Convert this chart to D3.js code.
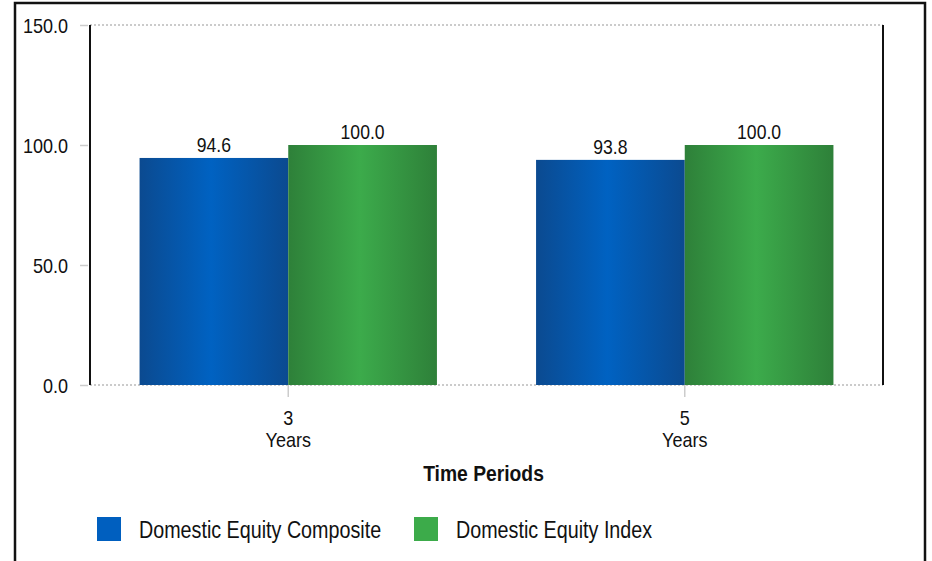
<!DOCTYPE html>
<html>
<head>
<meta charset="utf-8">
<title>Time Periods</title>
<script src="https://d3js.org/d3.v7.min.js"></script>
<style>
  body { margin: 0; background: #fff; }
  text { font-family: "Liberation Sans", Arial, sans-serif; fill: #111; }
</style>
</head>
<body>
<div id="chart"></div>
<script>
// data
var periods = ["3", "5"];
var periodUnits = ["Years", "Years"];
var seriesNames = ["Domestic Equity Composite", "Domestic Equity Index"];
var composite = [94.6, 93.8];
var index = [100.0, 100.0];
var yTicks = [0, 50, 100, 150];

var W = 932, H = 561;
var margin = {top: 25, left: 90, right: 49, bottom: 176};
var width = W - margin.left - margin.right;
var height = H - margin.top - margin.bottom;

var svg = d3.select("#chart").append("svg")
  .attr("width", W).attr("height", H);

// frame round the whole chart
svg.append("rect")
  .attr("x", 15).attr("y", 3).attr("width", 910).attr("height", 620)
  .attr("fill", "none").attr("stroke", "#111").attr("stroke-width", 2.5);

var defs = svg.append("defs");
function shade(id, edge, mid) {
  var g = defs.append("linearGradient").attr("id", id)
    .attr("x1", "0%").attr("x2", "100%").attr("y1", "0%").attr("y2", "0%");
  g.append("stop").attr("offset", "0%").attr("stop-color", edge);
  g.append("stop").attr("offset", "48%").attr("stop-color", mid);
  g.append("stop").attr("offset", "100%").attr("stop-color", edge);
}
shade("gBlue", "#0b4a90", "#0062c2");
shade("gGreen", "#2e8039", "#3cab4b");
var fills = ["url(#gBlue)", "url(#gGreen)"];
var legendColors = ["#005fbf", "#3cab4a"];

var g = svg.append("g").attr("transform", "translate(" + margin.left + "," + margin.top + ")");

var x0 = d3.scaleBand().domain(periods).range([0, width]).paddingInner(0.25).paddingOuter(0.125);
var x1 = d3.scaleBand().domain([0, 1]).range([0, x0.bandwidth()]);
var y = d3.scaleLinear().domain([0, 150]).range([height, 0]);

// dotted lines at top and bottom
[150, 0].forEach(function(v) {
  g.append("line")
    .attr("x1", 0).attr("x2", width)
    .attr("y1", y(v)).attr("y2", y(v))
    .attr("stroke", "#bbb").attr("stroke-width", 1.5)
    .attr("stroke-dasharray", "2,2");
});

var rows = periods.map(function(p, i) { return {period: p, unit: periodUnits[i], vals: [composite[i], index[i]]}; });

var grp = g.selectAll(".grp").data(rows).enter().append("g")
  .attr("transform", function(d) { return "translate(" + x0(d.period) + ",0)"; });

grp.selectAll("rect").data(function(d) { return d.vals; }).enter().append("rect")
  .attr("x", function(d, i) { return x1(i); })
  .attr("y", function(d) { return y(d); })
  .attr("width", x1.bandwidth())
  .attr("height", function(d) { return height - y(d); })
  .attr("fill", function(d, i) { return fills[i]; });

grp.selectAll(".val").data(function(d) { return d.vals; }).enter().append("text")
  .attr("class", "narrow")
  .attr("x", function(d, i) { return x1(i) + x1.bandwidth() / 2; })
  .attr("y", function(d) { return y(d) - 6; })
  .attr("text-anchor", "middle")
  .style("font-size", "20.5px")
  .text(function(d) { return d.toFixed(1); });

// y axis
var yAxis = d3.axisLeft(y).tickValues(yTicks).tickSize(10).tickPadding(12)
  .tickFormat(function(d) { return d.toFixed(1); });
var ya = g.append("g").call(yAxis);
ya.select(".domain").remove();
ya.selectAll(".tick line").attr("stroke", "#ccc").attr("stroke-width", 1.5).attr("x2", -2).attr("x1", -10);
ya.selectAll(".tick text").attr("class", "narrow").style("font-size", "21px").attr("fill", "#111").attr("dy", "0.36em");

g.append("line").attr("x1", 0).attr("x2", 0).attr("y1", 0).attr("y2", height)
  .attr("stroke", "#111").attr("stroke-width", 2);
g.append("line").attr("x1", width).attr("x2", width).attr("y1", 0).attr("y2", height)
  .attr("stroke", "#111").attr("stroke-width", 2);

// x axis
var xAxis = d3.axisBottom(x0).tickSize(12).tickPadding(10);
var xa = g.append("g").attr("transform", "translate(0," + height + ")").call(xAxis);
xa.select(".domain").remove();
xa.selectAll(".tick line").attr("stroke", "#ccc").attr("stroke-width", 1.5);
xa.selectAll(".tick text").attr("class", "narrow").style("font-size", "21px").attr("fill", "#111").attr("dy", null).attr("y", 40);
xa.selectAll(".tick").append("text")
  .attr("class", "narrow")
  .attr("y", 62).attr("text-anchor", "middle").attr("fill", "#111")
  .style("font-size", "21px")
  .text(function(d, i) { return periodUnits[i]; });

g.append("text")
  .attr("class", "narrow")
  .attr("x", width / 2 - 3).attr("y", height + 96)
  .attr("text-anchor", "middle")
  .style("font-size", "22.5px").style("font-weight", "bold")
  .text("Time Periods");

// legend
var legX = [97, 414];
var leg = svg.selectAll(".leg").data(seriesNames).enter().append("g")
  .attr("transform", function(d, i) { return "translate(" + legX[i] + ",517)"; });
leg.append("rect").attr("width", 24).attr("height", 24)
  .attr("fill", function(d, i) { return legendColors[i]; });
leg.append("text").attr("class", "narrow").attr("x", 42).attr("y", 21)
  .style("font-size", "23px")
  .text(function(d) { return d; });

// the original uses a condensed face: squeeze text sideways
svg.selectAll("text.narrow").each(function() {
  var len = this.getComputedTextLength();
  d3.select(this).attr("textLength", len * 0.857).attr("lengthAdjust", "spacingAndGlyphs");
});
</script>
</body>
</html>
